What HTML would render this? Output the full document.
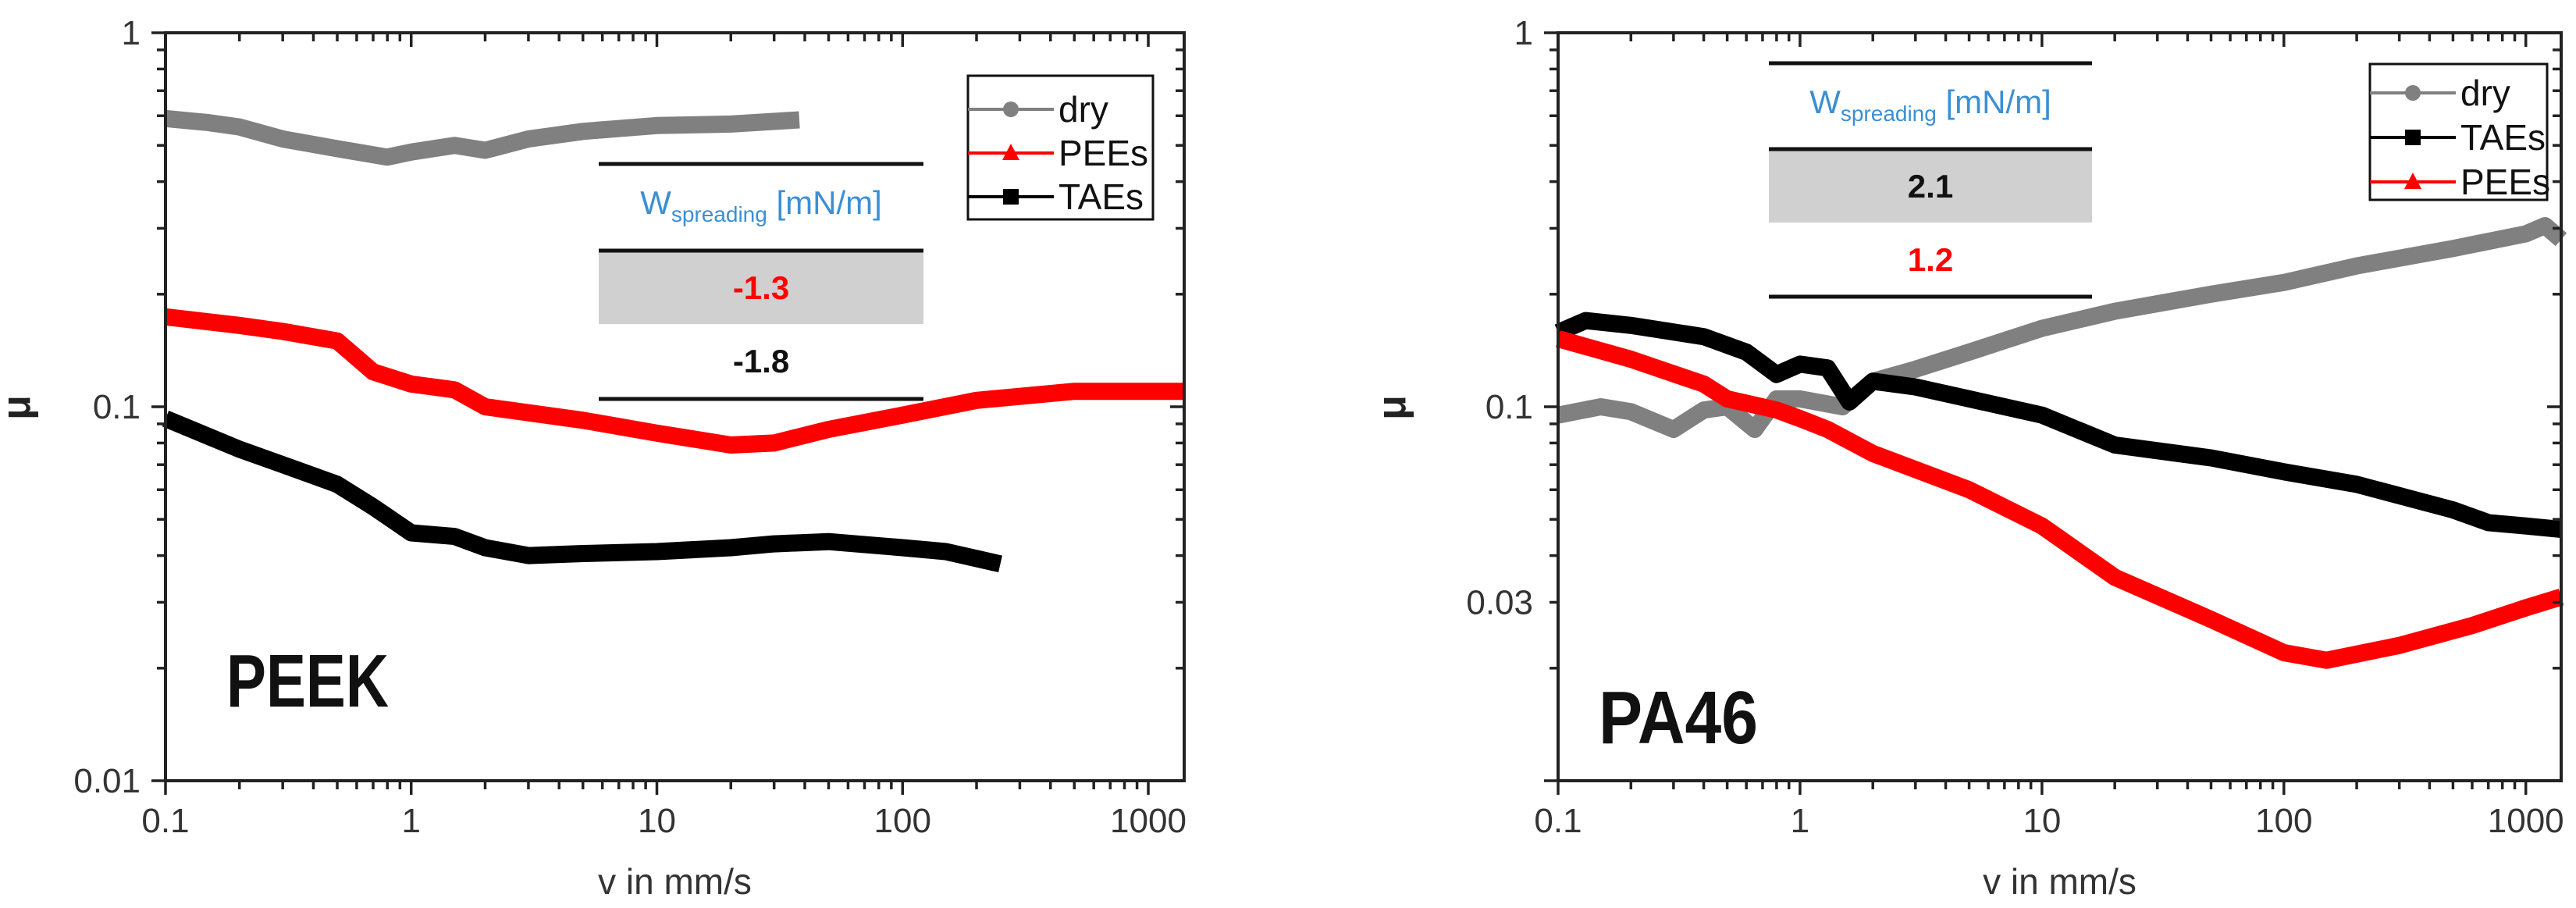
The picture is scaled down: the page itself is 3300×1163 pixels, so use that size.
<!DOCTYPE html>
<html><head><meta charset="utf-8">
<style>
html,body{margin:0;padding:0;background:#fff;}
svg{display:block;}
text{font-family:"Liberation Sans",sans-serif;}
</style></head>
<body>
<svg id="chart" width="3300" height="1163" viewBox="0 0 3300 1163" xmlns="http://www.w3.org/2000/svg"></svg>
<script>
// ---- PEEK panel data ----
const peekDryX = [0.1,0.15,0.2,0.3,0.5,0.8,1,1.5,2,3,5,10,20,38];
const peekDryY = [0.59,0.575,0.56,0.52,0.49,0.465,0.48,0.5,0.485,0.52,0.545,0.565,0.57,0.585];
const peekPeesX = [0.1,0.2,0.3,0.5,0.7,1,1.5,2,5,10,20,30,50,100,200,500,1400];
const peekPeesY = [0.174,0.165,0.159,0.15,0.124,0.115,0.111,0.1,0.092,0.085,0.079,0.08,0.087,0.095,0.104,0.11,0.11];
const peekTaesX = [0.1,0.2,0.3,0.5,0.7,1,1.5,2,3,5,10,20,30,50,100,150,250];
const peekTaesY = [0.093,0.077,0.07,0.062,0.054,0.046,0.045,0.042,0.04,0.0405,0.041,0.042,0.043,0.0436,0.042,0.041,0.038];
// ---- PA46 panel data ----
const paDryX = [0.1,0.15,0.2,0.3,0.4,0.5,0.65,0.8,1,1.5,2,3,5,10,20,50,100,200,500,1000,1200,1400];
const paDryY = [0.095,0.1,0.097,0.087,0.098,0.1,0.087,0.105,0.105,0.1,0.117,0.126,0.14,0.162,0.18,0.2,0.215,0.238,0.265,0.29,0.305,0.28];
const paTaesX = [0.1,0.13,0.2,0.4,0.6,0.8,1,1.3,1.6,2,3,5,10,20,50,100,200,500,700,1000,1400];
const paTaesY = [0.158,0.17,0.165,0.154,0.14,0.122,0.13,0.127,0.103,0.117,0.113,0.105,0.095,0.079,0.073,0.067,0.062,0.053,0.049,0.048,0.047];
const paPeesX = [0.1,0.2,0.4,0.5,0.8,1,1.3,2,5,10,20,50,100,150,300,600,1000,1400];
const paPeesY = [0.152,0.134,0.115,0.105,0.098,0.093,0.087,0.075,0.06,0.048,0.035,0.027,0.022,0.021,0.023,0.026,0.029,0.031];
// ticks
const xTickVals = [0.1,1,10,100,1000];
const xTickLabels = ["0.1","1","10","100","1000"];
const peekYTickVals = [1,0.1,0.01];
const peekYTickLabels = ["1","0.1","0.01"];
const paYTickVals = [1,0.1,0.03];
const paYTickLabels = ["1","0.1","0.03"];

const NS="http://www.w3.org/2000/svg";
const svg=document.getElementById('chart');
function mk(tag,attrs,parent){const e=document.createElementNS(NS,tag);for(const k in attrs)e.setAttribute(k,attrs[k]);(parent||svg).appendChild(e);return e;}

function panel(cfg){
  const g=mk('g',{});
  
  
  const L=cfg.left,R=cfg.right,T=42,B=1000;
  const xmin=-1,xmax=Math.log10(1400),ymin=-2,ymax=0;
  const sx=v=>L+(Math.log10(v)-xmin)/(xmax-xmin)*(R-L);
  const sy=v=>T+(ymax-Math.log10(v))/(ymax-ymin)*(B-T);
  cfg.series.forEach(s=>{
    let d='';
    s.x.forEach((xv,i)=>{d+=(i?'L':'M')+sx(xv).toFixed(1)+','+sy(s.y[i]).toFixed(1);});
    const p=mk('path',{d:d,fill:'none',stroke:s.color,'stroke-width':22,'stroke-linejoin':'round','stroke-linecap':'butt'},g);
    
    
  });
  const fr=mk('rect',{x:L,y:T,width:R-L,height:B-T,fill:'none',stroke:'#222','stroke-width':4},g);
  
  
  for(let e=-1;e<=3;e++){for(let m=1;m<10;m++){const v=m*Math.pow(10,e);if(v>1400)continue;const x=sx(v);const len=m===1?18:11;
    mk('line',{x1:x,y1:B,x2:x,y2:B+len,stroke:'#222','stroke-width':3.5},g);
    mk('line',{x1:x,y1:T,x2:x,y2:T+len,stroke:'#222','stroke-width':3.5},g);}}
  xTickVals.forEach((v,i)=>{const t=mk('text',{x:sx(v),y:1066,'font-size':44,'text-anchor':'middle',fill:'#333'},g);t.textContent=xTickLabels[i];
    
    });
  for(let e=-2;e<=-1;e++){for(let m=1;m<10;m++){const v=m*Math.pow(10,e);const y=sy(v);const len=m===1?18:11;
    mk('line',{x1:L-len,y1:y,x2:L,y2:y,stroke:'#222','stroke-width':3.5},g);
    mk('line',{x1:R-len,y1:y,x2:R,y2:y,stroke:'#222','stroke-width':3.5},g);}}
  mk('line',{x1:L-18,y1:T,x2:L,y2:T,stroke:'#222','stroke-width':3.5},g);
  cfg.yTickVals.forEach((v,i)=>{const t=mk('text',{x:L-32,y:sy(v)+15,'font-size':44,'text-anchor':'end',fill:'#333'},g);t.textContent=cfg.yTickLabels[i];
    
    });
  const xt=mk('text',{x:(L+R)/2,y:1145,'font-size':46,'text-anchor':'middle',fill:'#333'},g);xt.textContent='v in mm/s';
  
  
  const yt=mk('text',{x:cfg.muX,y:522,'font-size':52,'font-weight':'bold','text-anchor':'middle',fill:'#222',transform:'rotate(-90 '+cfg.muX+' 522)'},g);yt.textContent='μ';
  
  
  const ml=mk('text',{x:cfg.matX,y:cfg.matY,'font-size':96,'font-weight':'bold',fill:'#111',textLength:cfg.matW,lengthAdjust:'spacingAndGlyphs'},g);ml.textContent=cfg.mat;
  
  
  const tb=cfg.table, tx1=tb.x1, tx2=tb.x2, cx=(tx1+tx2)/2;
  const tg=mk('g',{},g);
  
  
  mk('rect',{x:tx1,y:tb.l2,width:tx2-tx1,height:94,fill:'#d0d0d0'},tg);
  [tb.l1,tb.l2,tb.l3].forEach(y=>mk('line',{x1:tx1,y1:y,x2:tx2,y2:y,stroke:'#111','stroke-width':5},tg));
  const ht=mk('text',{x:cx,y:tb.l1+64,'font-size':42,'text-anchor':'middle',fill:'#3b8fd4'},tg);
  ht.innerHTML='W<tspan font-size="28" dy="10">spreading</tspan><tspan dy="-10"> [mN/m]</tspan>';
  const v1=mk('text',{x:cx,y:tb.l2+62,'font-size':42,'font-weight':'bold','text-anchor':'middle',fill:tb.c1},tg);v1.textContent=tb.v1;
  const v2=mk('text',{x:cx,y:tb.l2+156,'font-size':42,'font-weight':'bold','text-anchor':'middle',fill:tb.c2},tg);v2.textContent=tb.v2;
  const lg=cfg.legend;
  const lgg=mk('g',{},g);
  
  
  mk('rect',{x:lg.x,y:lg.y,width:lg.w,height:lg.h,fill:'#fff',stroke:'#111','stroke-width':3},lgg);
  lg.items.forEach((it,i)=>{
    const y=lg.y+lg.first+i*lg.step;
    const eg=mk('g',{},lgg);
    
    
    mk('line',{x1:lg.x,y1:y,x2:lg.x+110,y2:y,stroke:it.color,'stroke-width':4},eg);
    const mx=lg.x+55;
    if(it.m==='c')mk('circle',{cx:mx,cy:y,r:10,fill:it.color},eg);
    else if(it.m==='t')mk('polygon',{points:(mx-11)+','+(y+9)+' '+(mx+11)+','+(y+9)+' '+mx+','+(y-12),fill:it.color},eg);
    else mk('rect',{x:mx-10,y:y-10,width:20,height:20,fill:it.color},eg);
    const t=mk('text',{x:lg.x+116,y:y+16,'font-size':46,fill:'#111'},eg);t.textContent=it.label;
  });
}

panel({name:'peek-chart',left:212,right:1517,muX:38,mat:'PEEK',matX:290,matY:905,matW:208,
  yTickVals:peekYTickVals,yTickLabels:peekYTickLabels,
  series:[{id:'dry',color:'#808080',x:peekDryX,y:peekDryY},{id:'pees',color:'#ff0000',x:peekPeesX,y:peekPeesY},{id:'taes',color:'#000',x:peekTaesX,y:peekTaesY}],
  table:{x1:767,x2:1183,l1:210,l2:321,l3:511,v1:'-1.3',c1:'#ff0000',v2:'-1.8',c2:'#111'},
  legend:{x:1240,y:97,w:237,h:184,first:43,step:56,items:[{label:'dry',color:'#808080',m:'c'},{label:'PEEs',color:'#ff0000',m:'t'},{label:'TAEs',color:'#000',m:'s'}]}
});
panel({name:'pa46-chart',left:1996,right:3281,muX:1800,mat:'PA46',matX:2048,matY:952,matW:204,
  yTickVals:paYTickVals,yTickLabels:paYTickLabels,
  series:[{id:'dry',color:'#808080',x:paDryX,y:paDryY},{id:'taes',color:'#000',x:paTaesX,y:paTaesY},{id:'pees',color:'#ff0000',x:paPeesX,y:paPeesY}],
  table:{x1:2266,x2:2680,l1:81,l2:191,l3:380,v1:'2.1',c1:'#111',v2:'1.2',c2:'#ff0000'},
  legend:{x:3036,y:82,w:227,h:174,first:37,step:57,items:[{label:'dry',color:'#808080',m:'c'},{label:'TAEs',color:'#000',m:'s'},{label:'PEEs',color:'#ff0000',m:'t'}]}
});
</script>
</body></html>
